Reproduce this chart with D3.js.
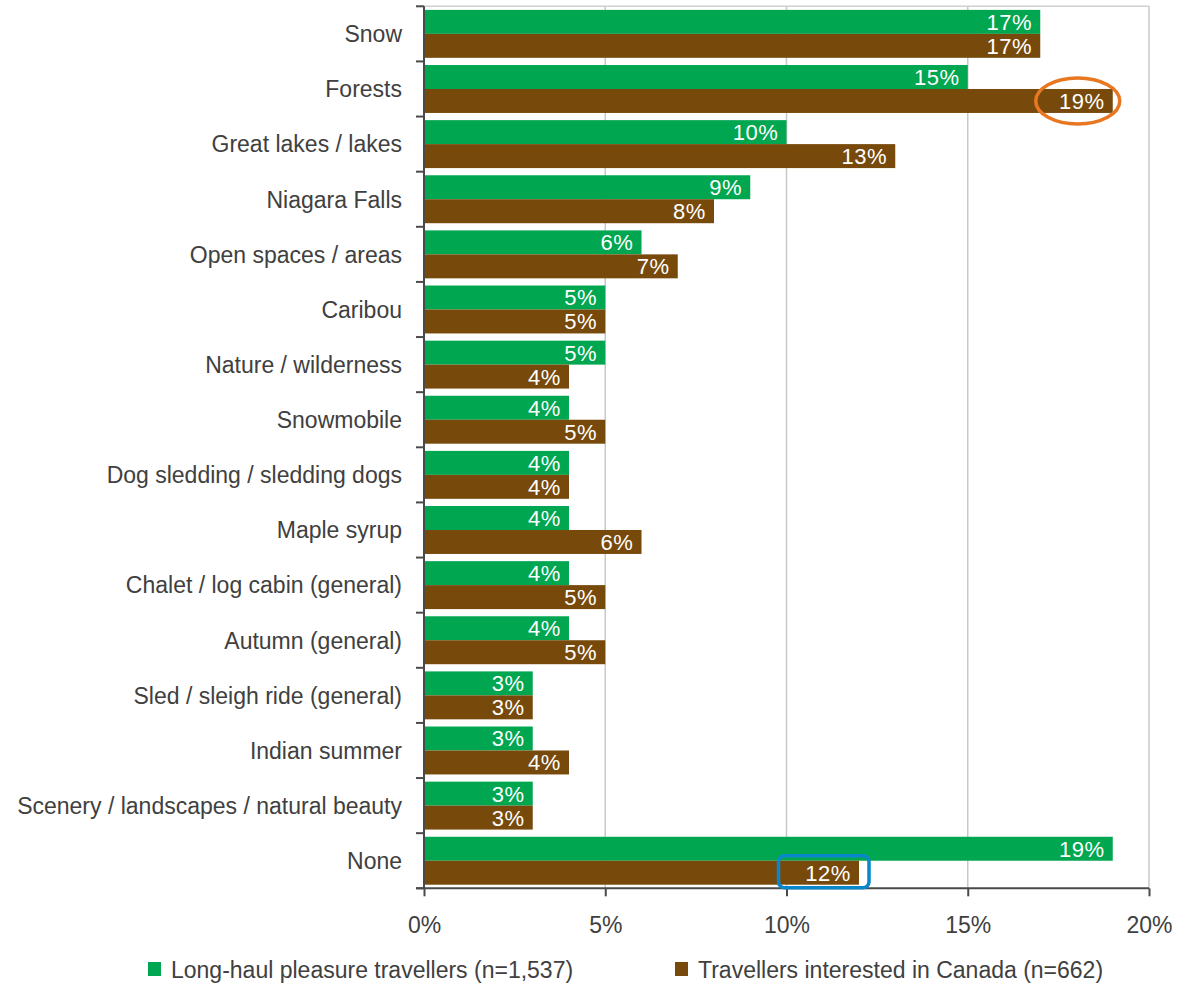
<!DOCTYPE html>
<html>
<head>
<meta charset="utf-8">
<script src="https://cdn.jsdelivr.net/npm/d3@7/dist/d3.min.js"></script>
<style>
  html, body { margin: 0; padding: 0; background: #ffffff; }
  svg { display: block; }
  text { font-family: "Liberation Sans", Arial, sans-serif; }
</style>
</head>
<body>
<svg id="chart" width="1189" height="988"></svg>
<script>
// Image associations with Canada, share of mentions
const categories = [
  "Snow", "Forests", "Great lakes / lakes", "Niagara Falls", "Open spaces / areas",
  "Caribou", "Nature / wilderness", "Snowmobile", "Dog sledding / sledding dogs",
  "Maple syrup", "Chalet / log cabin (general)", "Autumn (general)",
  "Sled / sleigh ride (general)", "Indian summer",
  "Scenery / landscapes / natural beauty", "None"
];
const longHaul = [17, 15, 10, 9, 6, 5, 5, 4, 4, 4, 4, 4, 3, 3, 3, 19];
const interestedCanada = [17, 19, 13, 8, 7, 5, 4, 5, 4, 6, 5, 5, 3, 4, 3, 12];
const seriesNames = [
  "Long-haul pleasure travellers (n=1,537)",
  "Travellers interested in Canada (n=662)"
];
const xTicks = [0, 5, 10, 15, 20];

const colors = ["#00a650", "#774a0b"];
const textColor = "#404040";
const labelFont = 23;

const svg = d3.select("#chart");
const margin = { left: 424, right: 40, top: 6.3, bottom: 99.7 };
const W = 1189, H = 988;

const x = d3.scaleLinear().domain([0, 20]).range([margin.left, W - margin.right]);
const y = d3.scaleBand().domain(categories).range([margin.top, H - margin.bottom]).paddingInner(0).paddingOuter(0);
const sub = d3.scaleBand().domain([0, 1]).range([0, y.bandwidth()]).paddingOuter(0.15).paddingInner(0);

// Gridlines and top border
const grid = svg.append("g");
grid.selectAll("line.v").data(xTicks.slice(1)).join("line")
  .attr("x1", d => x(d)).attr("x2", d => x(d))
  .attr("y1", margin.top).attr("y2", H - margin.bottom)
  .attr("stroke", "#c8c8c8").attr("stroke-width", 1.5);
grid.append("line")
  .attr("x1", x(0)).attr("x2", x(20))
  .attr("y1", margin.top).attr("y2", margin.top)
  .attr("stroke", "#d0d0d0").attr("stroke-width", 1.5);

// Bars
const rows = categories.map((c, i) => ({ c, vals: [longHaul[i], interestedCanada[i]] }));
const groups = svg.append("g").selectAll("g").data(rows).join("g")
  .attr("transform", d => `translate(0,${y(d.c)})`);

groups.selectAll("rect").data(d => d.vals.map((v, k) => ({ v, k }))).join("rect")
  .attr("x", x(0))
  .attr("y", d => sub(d.k))
  .attr("width", d => x(d.v) - x(0))
  .attr("height", sub.bandwidth())
  .attr("fill", d => colors[d.k]);

groups.selectAll("text.val").data(d => d.vals.map((v, k) => ({ v, k }))).join("text")
  .attr("class", "val")
  .attr("x", d => x(d.v) - 8)
  .attr("y", d => sub(d.k) + sub.bandwidth() / 2)
  .attr("dy", "0.36em")
  .attr("text-anchor", "end")
  .attr("fill", "#ffffff")
  .attr("font-size", 22)
  .attr("letter-spacing", 0.6)
  .text(d => d.v + "%");

// Category labels
svg.append("g").selectAll("text").data(categories).join("text")
  .attr("x", 402)
  .attr("y", d => y(d) + y.bandwidth() / 2)
  .attr("dy", "0.36em")
  .attr("text-anchor", "end")
  .attr("fill", textColor)
  .attr("font-size", labelFont)
  .text(d => d);

// Left axis with tick marks at band edges
const axisColor = "#4a4a4a";
svg.append("line")
  .attr("x1", x(0)).attr("x2", x(0))
  .attr("y1", margin.top).attr("y2", H - margin.bottom)
  .attr("stroke", axisColor).attr("stroke-width", 2);
const edges = categories.map(c => y(c)).concat([H - margin.bottom]);
svg.append("g").selectAll("line").data(edges).join("line")
  .attr("x1", x(0) - 8).attr("x2", x(0))
  .attr("y1", d => d).attr("y2", d => d)
  .attr("stroke", axisColor).attr("stroke-width", 2);

// Bottom axis
const xAxis = d3.axisBottom(x).tickValues(xTicks).tickFormat(d => d + "%").tickSize(8).tickPadding(20);
const ax = svg.append("g").attr("transform", `translate(0,${H - margin.bottom})`).call(xAxis);
ax.select(".domain").attr("stroke", axisColor).attr("stroke-width", 2).attr("d", `M${x(0) - 8},0H${x(20)}`);
ax.selectAll(".tick line").attr("stroke", axisColor).attr("stroke-width", 2);
ax.selectAll(".tick text").attr("fill", textColor).attr("font-size", labelFont)
  .attr("font-family", "Liberation Sans, Arial, sans-serif");

// Highlight annotations
const iF = categories.indexOf("Forests");
const yF = y("Forests") + sub(1) + sub.bandwidth() / 2;
svg.append("ellipse")
  .attr("cx", x(interestedCanada[iF]) - 35).attr("cy", yF)
  .attr("rx", 42).attr("ry", 23)
  .attr("fill", "none").attr("stroke", "#e87722").attr("stroke-width", 3.5);

const iN = categories.indexOf("None");
const yN = y("None") + sub(1);
svg.append("rect")
  .attr("x", x(10) - 8).attr("y", yN - 5)
  .attr("width", x(interestedCanada[iN]) - x(10) + 18)
  .attr("height", sub.bandwidth() + 8)
  .attr("rx", 6).attr("ry", 6)
  .attr("fill", "none").attr("stroke", "#0a86cb").attr("stroke-width", 3.5);

// Legend
const legendX = [148, 675];
const legend = svg.append("g").selectAll("g").data(seriesNames).join("g")
  .attr("transform", (d, i) => `translate(${legendX[i]},962)`);
legend.append("rect").attr("width", 13).attr("height", 14).attr("fill", (d, i) => colors[i]);
legend.append("text").attr("x", 23).attr("y", 8).attr("dy", "0.36em")
  .attr("fill", textColor).attr("font-size", labelFont).text(d => d);
</script>
</body>
</html>
